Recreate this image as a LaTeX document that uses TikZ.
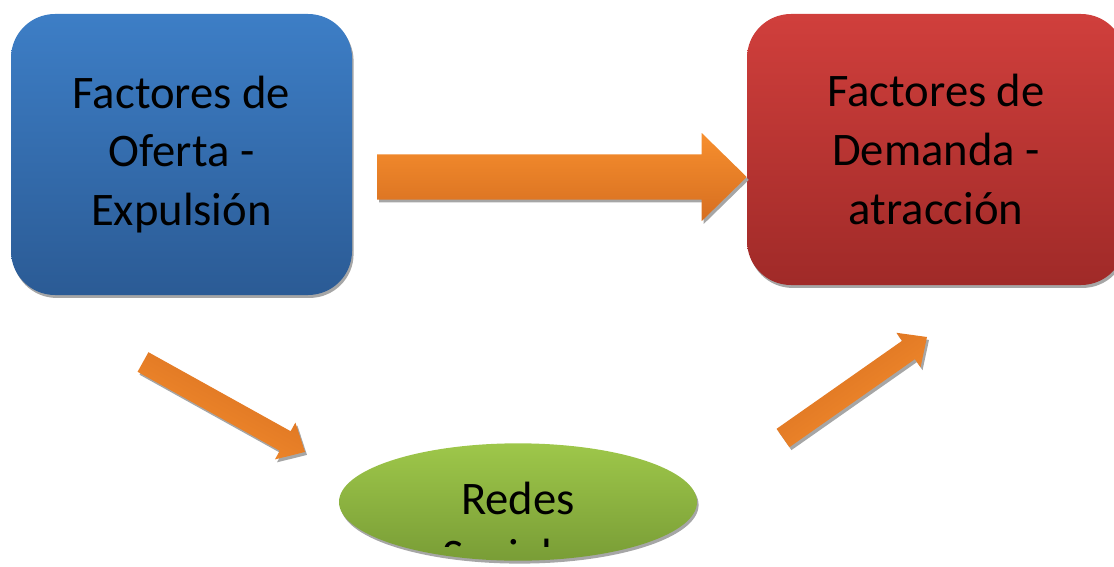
\documentclass[tikz,border=0pt]{standalone}
\usepackage{fontspec}
\setmainfont{Carlito}
\usetikzlibrary{calc,shapes.geometric,shadows}

\definecolor{blueTop}{RGB}{61,126,198}
\definecolor{blueBot}{RGB}{43,91,149}
\definecolor{redTop}{RGB}{208,63,60}
\definecolor{redBot}{RGB}{160,42,40}
\definecolor{greenTop}{RGB}{158,199,74}
\definecolor{greenBot}{RGB}{121,157,54}
\definecolor{orangeLight}{RGB}{247,143,46}
\definecolor{orangeDark}{RGB}{214,110,32}
\definecolor{shadowGray}{RGB}{166,166,166}

\tikzset{
  softshadow/.style={drop shadow={shadow xshift=1.2pt, shadow yshift=-2.2pt,
      opacity=1, fill=shadowGray}},
  factorbox/.style={rectangle, rounded corners=33pt, inner sep=0pt,
      align=center, font=\fontsize{35}{44}\selectfont, softshadow},
  netblob/.style={ellipse, inner sep=0pt, softshadow},
  bodytext/.style={align=center, font=\fontsize{35}{43}\selectfont},
}

% block arrow outline: #1 tail, #2 tip, #3 half shaft width, #4 half head width
\newcommand\arrowoutline[4]{($(#1)!#3!90:(#2)$) -- ($(#1-hb)!#3!90:(#2)$)
  -- ($(#1-hb)!#4!90:(#2)$) -- (#2) -- ($(#1-hb)!#4!-90:(#2)$)
  -- ($(#1-hb)!#3!-90:(#2)$) -- ($(#1)!#3!-90:(#2)$) -- cycle}
% #5 head length, #6 fill options
\newcommand\blockarrow[6]{%
  \coordinate (#1-hb) at ($(#2)!#5!(#1)$);
  \fill[shadowGray, transform canvas={xshift=1.5pt, yshift=-2.2pt}]
    \arrowoutline{#1}{#2}{#3}{#4};
  \path[#6] \arrowoutline{#1}{#2}{#3}{#4};
}

\begin{document}
\begin{tikzpicture}[x=0.75pt, y=-0.75pt]
  \path[use as bounding box] (0,0) rectangle (1114,567);
  \clip (0,0) rectangle (1114,567);

  % the two factor boxes
  \node[factorbox, top color=blueTop, bottom color=blueBot,
        minimum width=255.75pt, minimum height=210.75pt]
    (oferta) at (181.5,154.5) {Factores de\\Oferta -\\Expulsión};
  \node[factorbox, top color=redTop, bottom color=redBot,
        minimum width=283.5pt, minimum height=203.25pt]
    (demanda) at (936,149.5) {Factores de\\Demanda -\\atracción};

  % social networks; its label overflows the text frame and is cut there
  \node[netblob, top color=greenTop, bottom color=greenBot,
        minimum width=268.5pt, minimum height=88pt] (redes) at (518,502) {};
  \begin{scope}
    \clip (redes.west |- 0,440) rectangle (redes.east |- 0,546);
    \node[bodytext] (redestxt) at (518,527) {Redes\\Sociales};
  \end{scope}

  % arrows
  \coordinate (h-tail) at (377,177);
  \coordinate (h-tip) at (demanda.west |- h-tail);
  \blockarrow{h-tail}{h-tip}{16.9pt}{33pt}{33.75pt}
    {top color=orangeLight, bottom color=orangeDark}

  \coordinate (d-tail) at (143,362);
  \coordinate (d-tip) at (305,452);
  \blockarrow{d-tail}{d-tip}{8.4pt}{15.8pt}{17pt}
    {top color=orangeDark, bottom color=orangeLight, shading angle=-29}

  \coordinate (u-tail) at (783,438);
  \coordinate (u-tip) at (927,337);
  \blockarrow{u-tail}{u-tip}{8.4pt}{15.8pt}{17pt}
    {top color=orangeDark, bottom color=orangeLight, shading angle=35}
\end{tikzpicture}
\end{document}
